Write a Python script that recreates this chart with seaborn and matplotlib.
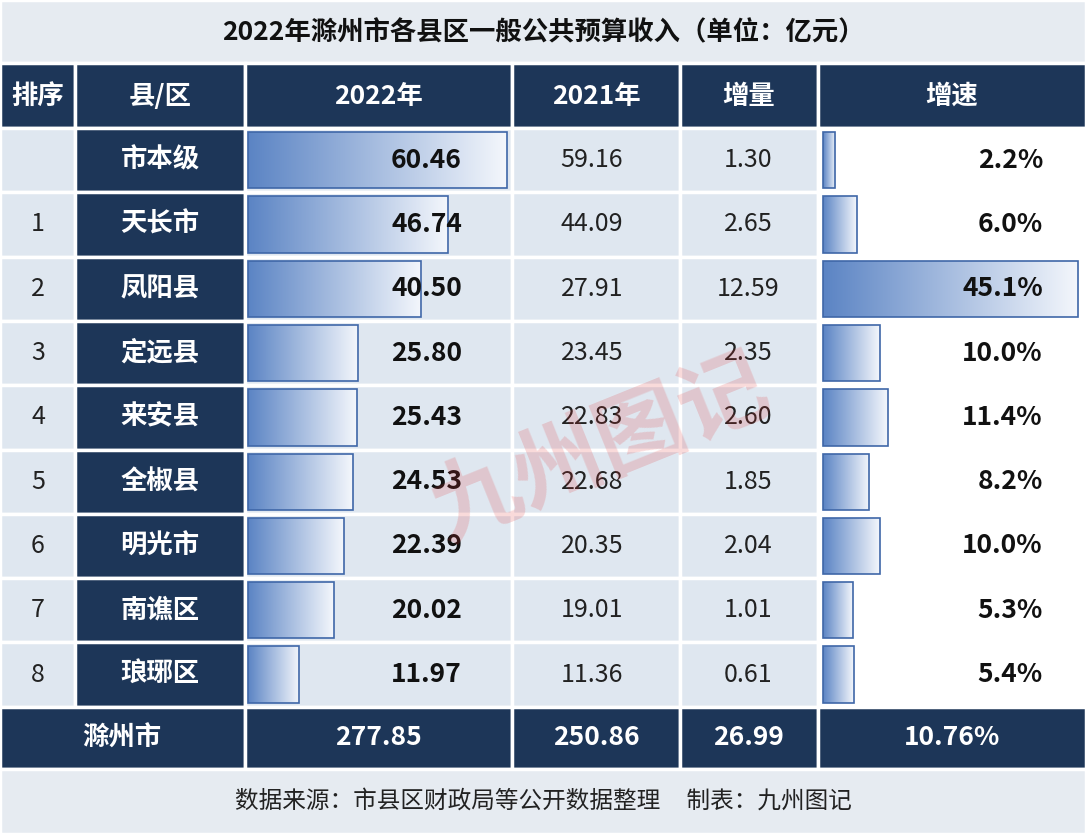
import matplotlib
matplotlib.use("Agg")
import matplotlib.pyplot as plt
import seaborn as sns
import numpy as np
from matplotlib.patches import Rectangle

sns.set_theme(style="white")
plt.rcParams['font.family'] = ['Noto Sans CJK SC', 'DejaVu Sans']

title = "2022年滁州市各县区一般公共预算收入（单位：亿元）"
headers = ["排序", "县/区", "2022年", "2021年", "增量", "增速"]
ranks = ["", "1", "2", "3", "4", "5", "6", "7", "8"]
regions = ["市本级", "天长市", "凤阳县", "定远县", "来安县", "全椒县", "明光市", "南谯区", "琅琊区"]
v2022 = [60.46, 46.74, 40.50, 25.80, 25.43, 24.53, 22.39, 20.02, 11.97]
v2021 = [59.16, 44.09, 27.91, 23.45, 22.83, 22.68, 20.35, 19.01, 11.36]
delta = [1.30, 2.65, 12.59, 2.35, 2.60, 1.85, 2.04, 1.01, 0.61]
growth = [2.2, 6.0, 45.1, 10.0, 11.4, 8.2, 10.0, 5.3, 5.4]
total = ["滁州市", "277.85", "250.86", "26.99", "10.76%"]
footer = "数据来源：市县区财政局等公开数据整理     制表：九州图记"

navy = "#1d3658"
light = "#dfe7f0"
cols = [0, 75, 245, 512, 680, 818, 1086]
row_h = 64.3
y0 = 128

fig = plt.figure(figsize=(10.86, 8.34), dpi=100)
ax = fig.add_axes([0, 0, 1, 1])
ax.set_xlim(0, 1086)
ax.set_ylim(834, 0)
ax.axis("off")
fig.patch.set_facecolor("white")

def cell(x0, x1, ya, yb, fc):
    ax.add_patch(Rectangle((x0, ya), x1 - x0, yb - ya, fc=fc, ec="white", lw=2.5))

cell(0, 1086, 0, 63, "#e6ebf1")
ax.text(543, 33, title, ha="center", va="center", fontsize=19, fontweight="bold", color="#111")
for i, h in enumerate(headers):
    cell(cols[i], cols[i+1], 63, y0, navy)
    ax.text((cols[i]+cols[i+1])/2, 96, h, ha="center", va="center", fontsize=19,
            fontweight="bold", color="white")

grad = np.linspace(1, 0, 256).reshape(1, -1)
cmap = matplotlib.colors.LinearSegmentedColormap.from_list("g", ["#5b84c4", "#f4f7fc"])

def gbar(left, y, width, h):
    bars = ax.barh([y], [width], left=left, height=h, color="none", ec="#3f67a8", lw=1.2, zorder=3)
    b = bars[0]
    im = ax.imshow(1 - grad, cmap=cmap, aspect="auto", extent=(left, left + width, y + h/2, y - h/2), zorder=2)
    im.set_clip_path(b)
    ax.set_xlim(0, 1086); ax.set_ylim(834, 0)

for r in range(9):
    ya = y0 + r * row_h
    yb = ya + row_h
    yc = (ya + yb) / 2
    cell(cols[0], cols[1], ya, yb, light)
    cell(cols[1], cols[2], ya, yb, navy)
    cell(cols[2], cols[3], ya, yb, light)
    cell(cols[3], cols[4], ya, yb, light)
    cell(cols[4], cols[5], ya, yb, light)
    cell(cols[5], cols[6], ya, yb, "white")
    gbar(248, yc, v2022[r] * 4.28, row_h - 8)
    gbar(823, yc, growth[r] * 5.66, row_h - 8)
    ax.text(38, yc, ranks[r], ha="center", va="center", fontsize=18, color="#222", zorder=5)
    ax.text(160, yc, regions[r], ha="center", va="center", fontsize=19, fontweight="bold", color="white", zorder=5)
    ax.text(462, yc, f"{v2022[r]:.2f}", ha="right", va="center", fontsize=19, fontweight="bold", color="#111", zorder=5)
    ax.text(592, yc, f"{v2021[r]:.2f}", ha="center", va="center", fontsize=18, color="#222", zorder=5)
    ax.text(748, yc, f"{delta[r]:.2f}", ha="center", va="center", fontsize=18, color="#222", zorder=5)
    ax.text(1043, yc, f"{growth[r]:.1f}%", ha="right", va="center", fontsize=19, fontweight="bold", color="#111", zorder=5)

yt = y0 + 9 * row_h
cell(0, cols[2], yt, 769, navy)
ax.text(122, (yt+769)/2, total[0], ha="center", va="center", fontsize=19, fontweight="bold", color="white")
for i in range(1, 5):
    cell(cols[i+1], cols[i+2], yt, 769, navy)
    ax.text((cols[i+1]+cols[i+2])/2, (yt+769)/2, total[i], ha="center", va="center",
            fontsize=19, fontweight="bold", color="white")

cell(0, 1086, 769, 834, "#e6ebf1")
ax.text(543, 801, footer, ha="center", va="center", fontsize=17, color="#222")

ax.text(600, 450, "九州图记", ha="center", va="center", fontsize=64, color="#e03030",
        alpha=0.18, rotation=22, zorder=6, fontweight="bold")

fig.savefig("out.png", dpi=100)
